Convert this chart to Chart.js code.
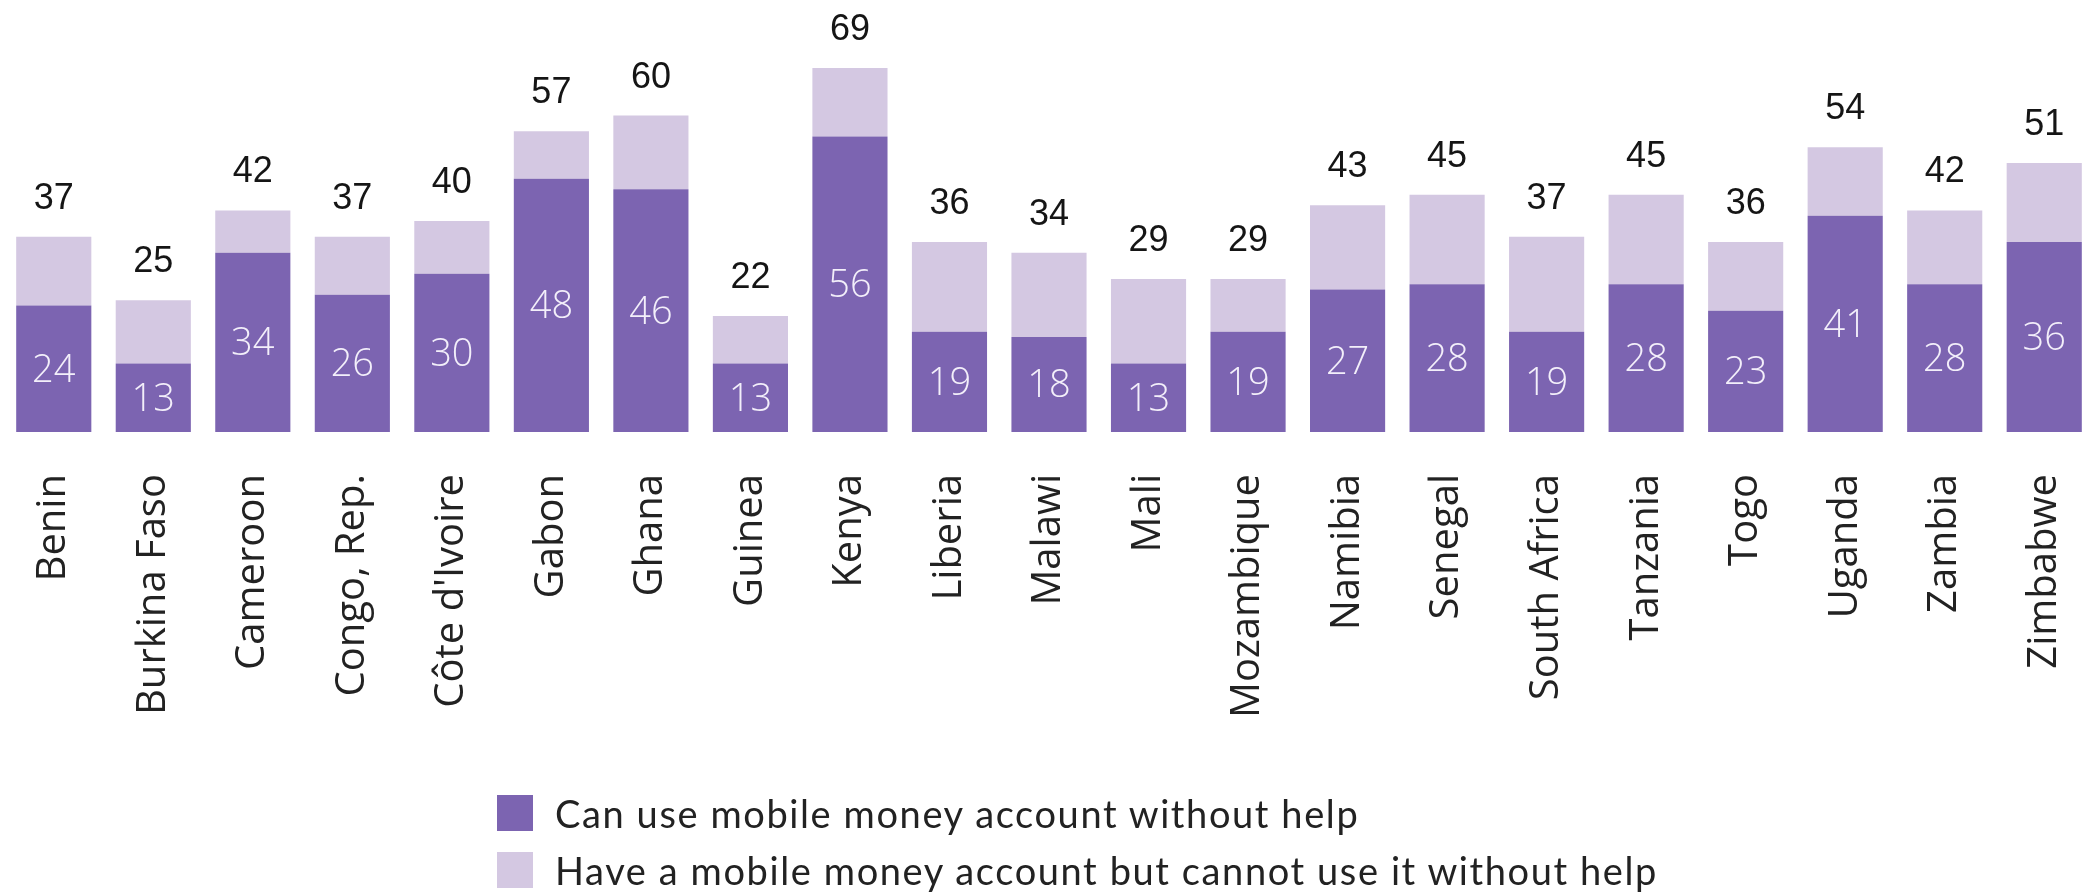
<!DOCTYPE html>
<html>
<head>
<meta charset="utf-8">
<script src="https://cdn.jsdelivr.net/npm/chart.js@4.4.1/dist/chart.umd.min.js"></script>
<style>
  body { margin: 0; background: #fff; }
  #wrap { position: relative; width: 2099px; height: 892px; }
  #legend { position: absolute; left: 497px; top: 795px; font-family: Lato, "Noto Sans", sans-serif; font-size: 38px; letter-spacing: 1.6px; color: #222; }
  #legend .row { display: flex; align-items: center; height: 36px; margin-bottom: 21px; white-space: nowrap; }
  #legend .box { width: 36px; height: 36px; margin-right: 22px; flex: none; }
</style>
</head>
<body>
<div id="wrap">
  <canvas id="chartviewport"></canvas>
  <div id="legend"></div>
</div>
<script>
const countries = [
    'Benin', 'Burkina Faso', 'Cameroon', 'Congo, Rep.', "Côte d'Ivoire", 'Gabon', 'Ghana',
    'Guinea', 'Kenya', 'Liberia', 'Malawi', 'Mali', 'Mozambique', 'Namibia', 'Senegal',
    'South Africa', 'Tanzania', 'Togo', 'Uganda', 'Zambia', 'Zimbabwe'
];
// % who can use their mobile money account without help
const canUse = [24, 13, 34, 26, 30, 48, 46, 13, 56, 19, 18, 13, 19, 27, 28, 19, 28, 23, 41, 28, 36];
// % who have an account but need help to use it
const needHelp = [13, 12, 8, 11, 10, 9, 14, 9, 13, 17, 16, 16, 10, 16, 17, 18, 17, 13, 13, 14, 15];

const seriesNames = [
    'Can use mobile money account without help',
    'Have a mobile money account but cannot use it without help'
];
const DARK = '#7c64b1';
const LIGHT = '#d4c8e2';

// numbers inside the dark segments and totals above each stack
const valueLabels = {
    id: 'valueLabels',
    afterDatasetsDraw(chart) {
        const ctx = chart.ctx;
        const inner = chart.getDatasetMeta(0).data;
        const outer = chart.getDatasetMeta(1).data;
        ctx.save();
        ctx.textAlign = 'center';

        ctx.font = '300 38px "Open Sans", sans-serif';
        ctx.fillStyle = '#f3effa';
        ctx.textBaseline = 'middle';
        inner.forEach((bar, i) => {
            ctx.fillText(String(canUse[i]), bar.x, (bar.y + bar.base) / 2 + 2);
        });

        ctx.font = '36px "Liberation Sans", Arial, sans-serif';
        ctx.fillStyle = '#151515';
        ctx.textBaseline = 'alphabetic';
        outer.forEach((bar, i) => {
            ctx.fillText(String(canUse[i] + needHelp[i]), bar.x, bar.y - 28);
        });
        ctx.restore();
    }
};

const chart = new Chart(document.getElementById('chartviewport'), {
    type: 'bar',
    data: {
        labels: countries,
        datasets: [{
            label: seriesNames[0],
            backgroundColor: DARK,
            data: canUse,
        }, {
            label: seriesNames[1],
            backgroundColor: LIGHT,
            data: needHelp,
        }]
    },
    options: {
        responsive: true,
        maintainAspectRatio: false,
        animation: false,
        categoryPercentage: 1,
        barPercentage: 0.755,
        layout: { padding: { top: 10, left: 4, right: 5, bottom: 160 } },
        plugins: {
            legend: { display: false },
            tooltip: { enabled: false }
        },
        scales: {
            x: {
                stacked: true,
                grid: { display: false, drawTicks: false },
                border: { display: false },
                afterFit(scale) {
                    // fixed axis band; rotated end labels need no side room
                    scale.height = 300;
                    scale.paddingLeft = 0;
                    scale.paddingRight = 0;
                },
                ticks: {
                    autoSkip: false,
                    minRotation: 90,
                    maxRotation: 90,
                    padding: 42,
                    color: '#222',
                    font: { family: '"Open Sans", sans-serif', size: 40 }
                }
            },
            y: {
                stacked: true,
                display: false,
                min: 0,
                max: 80
            }
        }
    },
    plugins: [valueLabels]
});

// legend as two stacked rows under the chart
const legendEl = document.getElementById('legend');
Chart.defaults.plugins.legend.labels.generateLabels(chart).forEach(item => {
    const row = document.createElement('div');
    row.className = 'row';
    const box = document.createElement('span');
    box.className = 'box';
    box.style.background = item.fillStyle;
    const txt = document.createElement('span');
    txt.textContent = item.text;
    row.appendChild(box);
    row.appendChild(txt);
    legendEl.appendChild(row);
});
</script>
</body>
</html>
